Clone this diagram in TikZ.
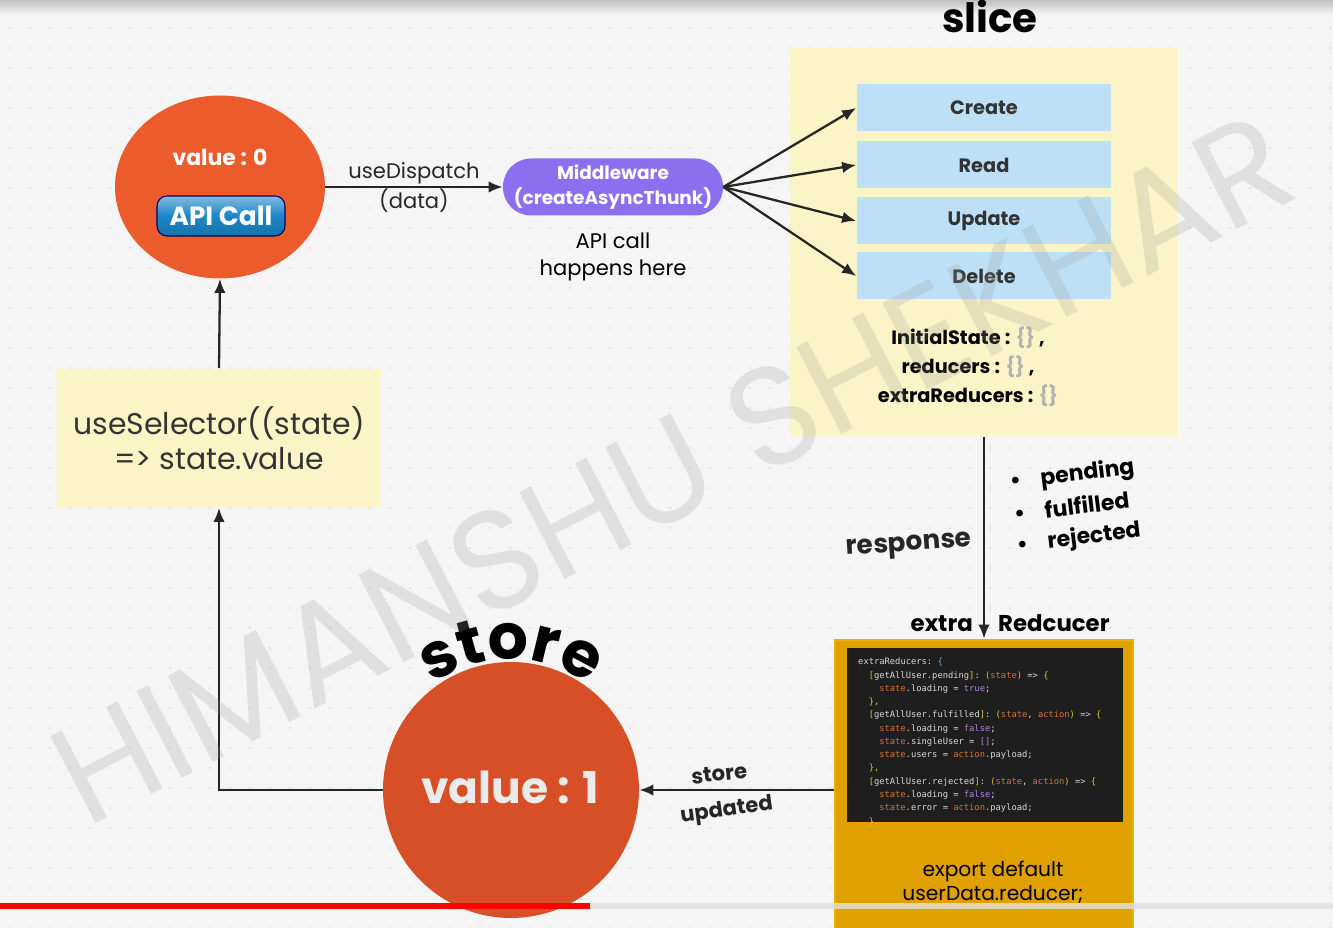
\documentclass[tikz,border=0pt]{standalone}
\usepackage{fontspec}
\setmainfont{Poppins}
\setmonofont{DejaVu Sans Mono}
\usetikzlibrary{arrows.meta, positioning, shapes.geometric, decorations.text}

\definecolor{bubblered}{HTML}{EC5B2B}
\definecolor{storered}{HTML}{D64F26}
\definecolor{apiblue}{HTML}{1C86C8}
\definecolor{mwpurple}{HTML}{8C6FEF}
\definecolor{paleyellow}{HTML}{FBF4C6}
\definecolor{crudblue}{HTML}{BDE0F6}
\definecolor{reducergold}{HTML}{DFA000}
\definecolor{codebg}{HTML}{1E1E1E}
\definecolor{codegold}{HTML}{E2C12F}
\definecolor{codeorange}{HTML}{D0723A}
\definecolor{codepurple}{HTML}{B67FDD}
\definecolor{codetext}{HTML}{D8D8D8}

\newcommand{\cst}[1]{\textcolor{codeorange}{#1}}
\newcommand{\cbr}[1]{\textcolor{codegold}{#1}}
\newcommand{\cvl}[1]{\textcolor{codepurple}{#1}}

\begin{document}
\begin{tikzpicture}[
				x=0.02cm, y=-0.02cm,
				arrow/.style={-{Latex[length=8pt,width=6.5pt]}, line width=1.3pt, black!85},
				bubble/.style={ellipse, inner sep=0pt},
				crud/.style={rectangle, fill=crudblue, minimum width=5.1cm, minimum height=0.94cm, text=black!80, font=\fontsize{11}{13}\selectfont\bfseries},
				pale/.style={rectangle, fill=paleyellow},
				lbl/.style={font=\fontsize{12}{14}\selectfont},
				boldlbl/.style={font=\fontsize{13}{15}\selectfont\bfseries}
				]
				
				\useasboundingbox (0,0) rectangle (1333,928);
				\clip (0,0) rectangle (1333,928);
				
				% Background with dots
				\fill[white!96!black] (0,0) rectangle (1333,928);
				\shade[top color=black!25, bottom color=white!96!black] (0,0) rectangle (1333,14);
				\foreach \i in {0,...,66}
				\foreach \j in {1,...,46}
				\fill[black!14] (\i*20+10,\j*20+8) circle[radius=1.1];
				
				% Top circle with API call button
				\node[bubble, fill=bubblered, minimum width=4.2cm, minimum height=3.66cm] (valzero) at (220,187) {};
				\node[text=white, font=\fontsize{12.5}{14}\selectfont\bfseries] (valzerotxt) at (220,157) {value : 0};
				\node[rectangle, rounded corners=0.2cm, draw=black!60!blue, line width=0.6pt, top color=apiblue!55!white, bottom color=apiblue!85!black, middle color=apiblue, minimum width=2.56cm, minimum height=0.8cm, text=white, font=\fontsize{15}{17}\selectfont\bfseries] (apicall) at (221,216) {API Call};
				
				% Middleware
				\node[rectangle, rounded corners=0.56cm, fill=mwpurple, minimum width=4.4cm, minimum height=1.14cm, text=white, align=center, font=\fontsize{10.5}{14}\selectfont\bfseries] (mware) at (613,187) {Middleware\\(createAsyncThunk)};
				\node[lbl, align=center, below=6pt of mware, font=\fontsize{12}{15.5}\selectfont] (apihere) {API call\\happens here};
				
				% Slice box
				\node[pale, minimum width=7.76cm, minimum height=7.78cm] (slicebox) at (984,242) {};
				\node[font=\fontsize{23}{25}\selectfont\bfseries] (slicetitle) at (990,16) {slice};
				\node[crud] (create) at (984,108) {Create};
				\node[crud] (read) at (984,165) {Read};
				\node[crud] (update) at (984,221) {Update};
				\node[crud] (delete) at (984,276) {Delete};
				\node[align=center, font=\fontsize{11}{16.5}\selectfont\bfseries] (slicekeys) at (968,367)
				{InitialState : \textcolor{black!30}{\{\}} ,\\reducers : \textcolor{black!30}{\{\}} ,\\extraReducers : \textcolor{black!30}{\{\}}};
				
				% useSelector box
				\node[pale, minimum width=6.48cm, minimum height=2.78cm, align=center, text=black!80, font=\fontsize{17}{20}\selectfont] (sel) at (219,438) {useSelector((state)\\=> state.value};
				
				% Extra reducer box
				\node[rectangle, fill=reducergold, draw=reducergold!80!yellow, line width=1.5pt, minimum width=5.96cm, minimum height=6cm] (xred) at (984,790) {};
				\node[rectangle, fill=codebg, minimum width=5.54cm, minimum height=3.48cm] (code) at (985,735) {};
				\node[anchor=north west, align=left, text=codetext, font=\fontsize{5}{7.55}\selectfont\ttfamily] (codetxt) at (852,652)
				{extraReducers: \textcolor{apiblue!70!white}{\{}\\
				\hspace*{1.2em}\cbr{[}getAllUser.pending\cbr{]}: \cbr{(}\cst{state}\cbr{)} => \cbr{\{}\\
				\hspace*{2.4em}\cst{state}.loading = \cvl{true};\\
				\hspace*{1.2em}\cbr{\},}\\
				\hspace*{1.2em}\cbr{[}getAllUser.fulfilled\cbr{]}: \cbr{(}\cst{state}, \cst{action}\cbr{)} => \cbr{\{}\\
				\hspace*{2.4em}\cst{state}.loading = \cvl{false};\\
				\hspace*{2.4em}\cst{state}.singleUser = \cvl{[]};\\
				\hspace*{2.4em}\cst{state}.users = \cst{action}.payload;\\
				\hspace*{1.2em}\cbr{\},}\\
				\hspace*{1.2em}\cbr{[}getAllUser.rejected\cbr{]}: \cbr{(}\cst{state}, \cst{action}\cbr{)} => \cbr{\{}\\
				\hspace*{2.4em}\cst{state}.loading = \cvl{false};\\
				\hspace*{2.4em}\cst{state}.error = \cst{action}.payload;\\
				\hspace*{1.2em}\cbr{\},}};
				\node[align=center, font=\fontsize{11.5}{13.5}\selectfont] (exportdef) at (993,882) {export default\\userData.reducer;};
				
				% Store circle
				\node[circle, fill=storered, minimum size=5.12cm, inner sep=0pt] (store) at (511,790) {};
				\node[text=white!92!black, font=\fontsize{25}{27}\selectfont\bfseries] (valone) at (510,787) {value : 1};
				\path[decorate, decoration={text along path, text align=center, text format delimiters={|}{|},
				text={|\fontsize{36}{38}\selectfont\bfseries|store}}]
				(store.center) ++(218:131) arc[start angle=218, end angle=322, radius=131];
				
				% Dispatch to middleware
				\draw[arrow] (valzero.east) -- (mware.west)
				node[midway, above=-2pt, lbl] {useDispatch}
				node[midway, below=-3pt, lbl] {(data)};
				
				% Middleware to CRUD
				\foreach \op in {create, read, update, delete}
				\draw[arrow] (mware.east) -- (\op.west);
				
				% Response
				\draw[arrow] (slicebox.south) -- (xred.north)
				node[pos=0.52, left=3pt, rotate=4, font=\fontsize{15}{17}\selectfont\bfseries] {response};
				\node[anchor=west, rotate=7, font=\fontsize{12.5}{14}\selectfont\bfseries] (pend) at (1004,484) {\textbullet\hspace{0.9em}pending};
				\node[anchor=west, rotate=7, font=\fontsize{12.5}{14}\selectfont\bfseries] (fulf) at (1008,514) {\textbullet\hspace{0.9em}fulfilled};
				\node[anchor=west, rotate=7, font=\fontsize{12.5}{14}\selectfont\bfseries] (rej) at (1011,547) {\textbullet\hspace{0.9em}rejected};
				\node[anchor=base east, boldlbl] (xtra) at (979,632) {extra};
				\node[anchor=base west, boldlbl] (redc) at (992,632) {Redcucer};
				
				% Store updated
				\draw[arrow] (store.east -| xred.west) -- (store.east)
				node[midway, above=1pt, xshift=-9pt, rotate=6, font=\fontsize{12}{14}\selectfont\bfseries] {store}
				node[midway, below=2pt, xshift=-7pt, rotate=8, font=\fontsize{12}{14}\selectfont\bfseries] {updated};
				
				% Back to the component
				\draw[arrow] (store.west) -| (sel.south);
				\draw[arrow] (sel.north) -- (valzero.south);
				
				% Watermark
				\node[rotate=27.5, text=black!40, opacity=0.22, font=\fontsize{80}{82}\selectfont] (mark) at (672,468) {HIMANSHU SHEKHAR};
				
				% Progress bar
				\fill[black!12, opacity=0.8] (0,903) rectangle (1333,909);
				\fill[red] (0,903) rectangle (590,909);
				
			\end{tikzpicture}
\end{document}
